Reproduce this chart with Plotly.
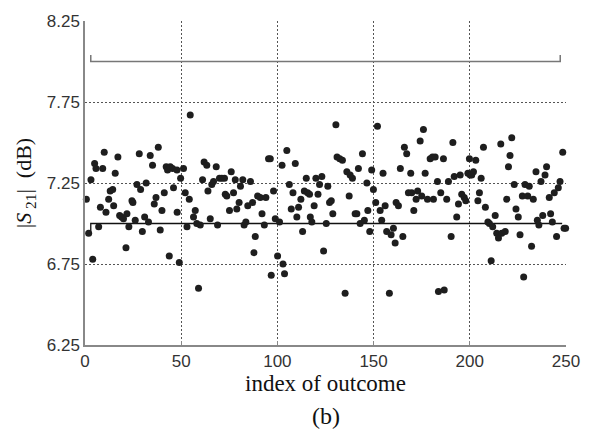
import plotly.graph_objects as go

# outcome index (estimated) and |S21| values in dB
idx = [0.7,1.9,3.1,4.0,5.0,5.7,7.1,8.0,9.2,10.0,10.9,12.3,13.1,14.4,14.9,15.7,17.1,18.0,19.0,20.0,
       21.3,21.8,22.8,24.4,24.9,26.1,27.0,28.2,28.9,29.8,31.0,31.8,33.0,33.9,35.1,36.0,36.9,38.1,39.1,40.0,
       41.2,42.2,42.9,43.8,44.3,45.5,46.0,47.8,47.9,49.0,49.7,51.2,52.1,53.0,54.2,54.7,56.4,57.3,58.1,59.0,
       59.9,61.1,61.9,63.3,63.9,65.1,65.9,66.8,68.2,68.9,69.9,71.1,72.5,72.9,73.7,75.1,76.0,77.2,78.1,78.9,
       80.1,80.8,82.0,82.7,83.6,84.6,86.0,87.1,87.8,88.5,89.7,91.1,92.0,93.2,94.0,95.4,96.3,96.8,98.0,98.9,
       100.1,101.1,102.4,102.9,103.7,104.9,106.2,107.2,108.1,109.3,110.1,111.0,112.2,113.1,114.0,115.0,115.7,116.7,117.1,117.9,
       119.1,120.0,121.1,121.9,123.1,124.0,125.4,126.2,127.1,128.0,128.8,130.4,131.0,132.4,133.8,135.2,136.1,137.3,137.8,139.0,
       140.4,141.3,142.1,143.0,144.2,145.2,146.5,147.0,148.0,149.0,149.9,151.1,152.0,153.4,154.2,154.9,156.0,156.8,158.2,159.1,
       160.3,161.2,161.7,162.9,163.9,165.2,166.0,167.2,168.1,169.3,169.8,170.9,172.1,172.9,174.2,175.0,175.9,176.8,178.0,179.4,
       180.6,181.1,182.0,183.2,183.7,184.9,186.3,186.7,188.0,188.9,190.3,191.2,191.9,193.2,194.1,195.0,195.8,197.1,197.9,199.0,
       199.8,200.2,201.0,201.9,203.1,204.2,205.0,205.9,207.1,208.1,209.4,210.2,211.1,211.9,213.2,214.0,214.9,216.1,216.6,218.4,
       219.2,220.1,220.9,221.8,223.1,224.0,225.2,226.1,227.3,228.0,228.7,230.1,230.9,232.1,233.0,234.4,235.1,235.9,237.0,237.9,
       239.1,239.9,241.3,242.0,242.9,243.9,245.1,246.0,246.9,248.3,249.0,249.8]
s21 = [7.15,6.94,7.27,6.78,7.37,7.34,6.98,7.10,7.34,7.44,7.07,7.15,7.20,7.21,7.11,7.31,7.41,7.05,7.04,7.03,
       6.85,7.06,6.98,7.14,7.13,7.02,7.24,7.43,7.21,6.95,7.04,7.25,7.01,7.42,7.36,7.12,7.16,7.47,6.96,7.08,
       7.19,7.35,7.33,6.80,7.35,7.34,7.22,7.33,7.07,6.76,7.28,7.34,7.19,6.98,7.15,7.67,7.04,7.08,7.00,6.60,
       6.99,7.27,7.38,7.36,7.20,7.03,7.24,7.26,7.35,6.99,7.28,7.28,7.28,7.18,7.17,7.08,7.32,7.19,7.27,7.09,
       7.13,7.23,7.27,6.99,7.01,7.11,7.26,7.13,6.82,6.92,7.17,7.16,7.06,6.99,7.16,7.40,7.40,6.68,7.20,7.03,
       6.80,7.01,7.36,6.75,6.69,7.45,7.24,7.09,7.19,7.37,7.04,7.10,7.15,6.95,7.20,7.28,7.19,7.18,7.04,7.01,
       7.11,7.28,7.18,7.24,7.29,6.83,7.00,7.23,7.13,7.14,7.06,7.61,7.41,7.40,7.39,6.57,7.32,7.17,7.30,7.28,
       7.06,7.06,7.34,7.00,7.43,7.02,7.25,7.08,6.95,7.33,7.21,7.13,7.60,7.08,7.02,7.31,7.11,6.95,6.57,6.93,
       6.97,6.88,7.13,7.11,7.34,6.92,7.47,7.43,7.19,7.31,7.19,7.08,7.15,7.20,7.51,7.17,7.58,7.31,7.15,7.40,
       7.41,7.15,7.41,7.26,6.58,7.19,7.40,6.59,7.15,7.26,6.92,7.50,7.29,7.04,7.12,7.30,7.18,7.16,7.14,7.31,
       7.40,7.30,7.30,7.32,7.39,7.14,7.19,7.28,7.47,7.10,7.01,7.00,6.77,6.98,7.05,6.94,6.91,7.49,6.94,6.95,
       7.15,7.35,7.42,7.53,7.24,7.09,7.04,6.93,7.17,6.67,7.24,7.17,7.23,6.86,7.15,7.32,7.02,6.99,7.26,7.05,
       7.30,7.35,7.16,7.06,7.01,7.19,6.92,7.22,7.26,7.44,6.97,6.97]

# reference lines (upper bracket and nominal level)
upper_x = [3, 3, 247, 247]
upper_y = [8.04, 8.0, 8.0, 8.04]
nominal_x = [3, 3, 248]
nominal_y = [6.95, 7.0, 7.0]

x_ticks = [0, 50, 100, 150, 200, 250]
y_ticks = [6.25, 6.75, 7.25, 7.75, 8.25]
y_tick_text = ["6.25", "6.75", "7.25", "7.75", "8.25"]

fig = go.Figure()
fig.add_trace(go.Scatter(x=upper_x, y=upper_y, mode="lines",
                         line=dict(color="#777777", width=1.5), hoverinfo="skip"))
fig.add_trace(go.Scatter(x=nominal_x, y=nominal_y, mode="lines",
                         line=dict(color="#111111", width=1.3), hoverinfo="skip"))
fig.add_trace(go.Scatter(x=idx, y=s21, mode="markers", cliponaxis=False,
                         marker=dict(color="#1e1e1e", size=7, line=dict(width=0))))

tickfont = dict(family="Liberation Sans, Arial, sans-serif", size=17, color="#333333")
serif = "Liberation Serif, Times New Roman, serif"

fig.update_layout(
    width=605, height=438,
    margin=dict(l=85, r=39, t=17, b=93),
    paper_bgcolor="white", plot_bgcolor="white",
    showlegend=False,
    xaxis=dict(range=[0, 250], tickvals=x_ticks, ticktext=[str(v) for v in x_ticks],
               showgrid=True, gridcolor="#555555", gridwidth=1, griddash="2px,2px",
               showline=True, linecolor="#888888", linewidth=1.5,
               ticks="inside", ticklen=4, tickcolor="#888888",
               tickfont=tickfont, zeroline=False,
               title=dict(text="index of outcome", font=dict(family=serif, size=23, color="#111111"),
                          standoff=3)),
    yaxis=dict(range=[6.25, 8.25], tickvals=y_ticks, ticktext=y_tick_text,
               showgrid=True, gridcolor="#555555", gridwidth=1, griddash="2px,2px",
               showline=True, linecolor="#888888", linewidth=1.5,
               ticks="", tickfont=tickfont, zeroline=False,
               title=dict(text="|<i>S</i><sub> 21</sub>|  (dB)",
                          font=dict(family=serif, size=22, color="#111111"), standoff=9)),
    annotations=[dict(text="(b)", xref="paper", yref="paper", x=0.5, y=-0.2195,
                      xanchor="center", yanchor="middle", showarrow=False,
                      font=dict(family=serif, size=24, color="#111111"))],
)

fig.write_html("out.html")
